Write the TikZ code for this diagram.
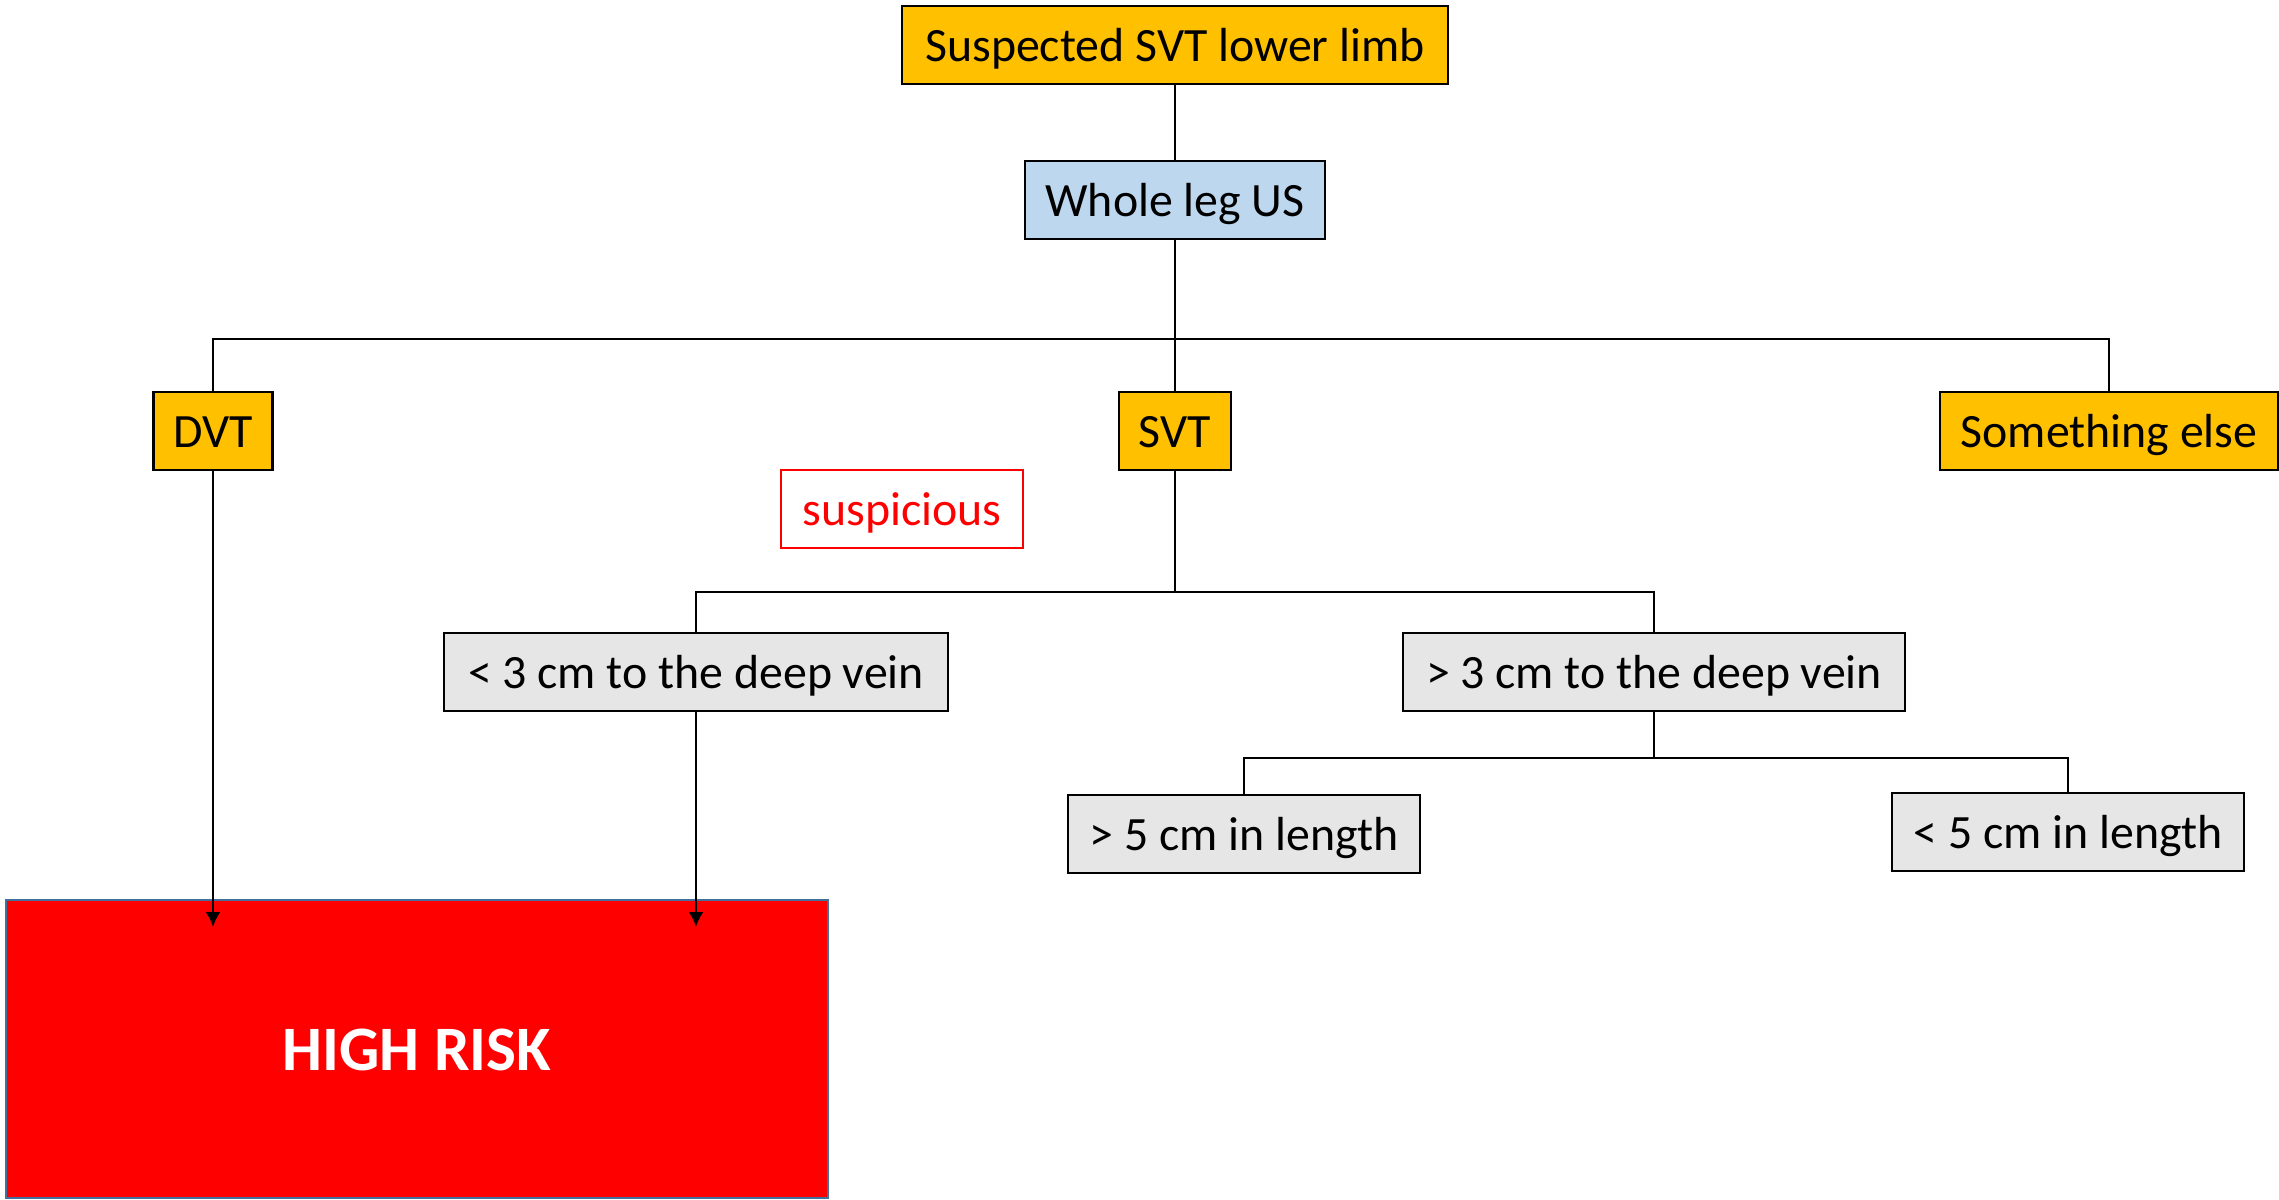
\documentclass[tikz,border=0pt]{standalone}
\usepackage{fontspec}
\setmainfont{Carlito}
\usepackage{xcolor}
\definecolor{colorFinding}{HTML}{FFC000}
\definecolor{colorScan}{HTML}{BDD7EE}
\definecolor{colorDistance}{HTML}{E7E6E6}
\definecolor{colorRisk}{HTML}{FF0000}
\definecolor{colorRiskBorder}{HTML}{41719C}
\usetikzlibrary{arrows.meta, positioning}
\tikzset{box/.style={draw, line width=0.6pt, minimum height=0.78cm, inner sep=0pt, text height=0.42cm, text depth=0.1cm, font=\fontsize{13.6}{16}\selectfont}}

\begin{document}
\begin{tikzpicture}[x=0.01cm, y=-0.01cm, line width=0.7pt, >={Latex[length=1.5mm, width=1.5mm]},
  finding/.style={box, fill=colorFinding},
  gapbox/.style={box, fill=colorDistance},
  riskbox/.style={draw=colorRiskBorder, line width=0.6pt, fill=colorRisk, text=white, inner sep=0pt, text height=0.43cm, text depth=0pt, font=\fontsize{18}{21}\selectfont\bfseries}]
\useasboundingbox (0,0) rectangle (2279,1199);
\node[finding, minimum width=5.46cm] (suspected) at (1175,45) {Suspected SVT lower limb};
\node[box, fill=colorScan, minimum width=3cm] (wholeleg) at (1175,200) {Whole leg US};
\node[finding, minimum width=1.19cm] (dvt) at (213,431) {DVT};
\node[finding, minimum width=1.12cm] (svt) at (1175,431) {SVT};
\node[finding, minimum width=3.38cm] (other) at (2109,431) {Something else};
\node[box, draw=colorRisk, text=colorRisk, fill=white, minimum width=2.41cm] (suspicious) at (902,509) {suspicious};
\node[gapbox, minimum width=5.03cm] (near) at (696,672) {< 3 cm to the deep vein};
\node[gapbox, minimum width=5.01cm] (far) at (1654,672) {> 3 cm to the deep vein};
\node[gapbox, minimum width=3.52cm] (long) at (1244,834) {> 5 cm in length};
\node[gapbox, minimum width=3.52cm] (short) at (2068,832) {< 5 cm in length};
\node[riskbox, minimum width=8.21cm, minimum height=2.97cm] (highrisk) at (417,1049) {HIGH RISK};
% branch points
\coordinate (split1) at (wholeleg.south |- 0,339);
\coordinate (split2) at (svt.south |- 0,592);
\coordinate (split3) at (far.south |- 0,758);
\coordinate (dvtend) at (dvt.south |- 0,927);
\coordinate (nearend) at (near.south |- 0,927);
\draw (suspected) -- (wholeleg);
\draw (wholeleg) -- (svt);
\draw (dvt.north) |- (split1) -| (other.north);
\draw (svt) -- (split2);
\draw (near.north) |- (split2) -| (far.north);
\draw (far) -- (split3);
\draw (long.north) |- (split3) -| (short.north);
\draw [->] (dvt) -- (dvtend);
\draw [->] (near) -- (nearend);
\end{tikzpicture}
\end{document}
